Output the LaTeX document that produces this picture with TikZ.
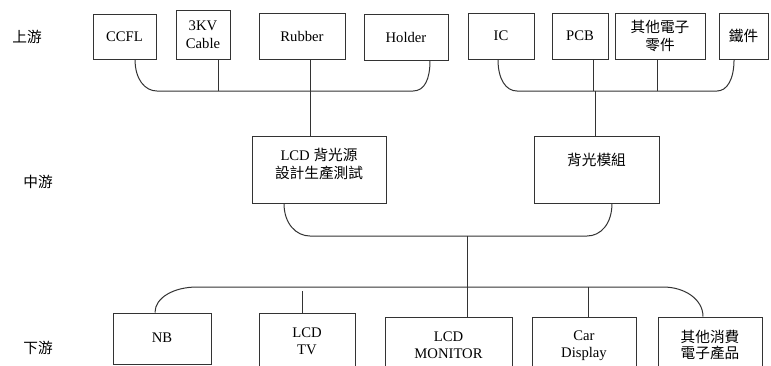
\documentclass[tikz,border=0pt]{standalone}
\usepackage{fontspec}
\setmainfont{Liberation Serif}
\newfontfamily\cjk{Noto Sans CJK TC}
\usetikzlibrary{positioning}
\begin{document}
\begin{tikzpicture}[x=0.75pt, y=-0.75pt,
    box/.style={draw=black!80, line width=0.75pt, inner sep=0pt, align=center, minimum height=34.5pt, font=\fontsize{11}{13.5}\selectfont},
    txt/.style={inner sep=0pt, align=center, font=\fontsize{11}{12.5}\selectfont},
    conn/.style={draw=black!80, line width=0.75pt}]
    \clip (0,0) rectangle (771,365);
    \fill[white] (0,0) rectangle (771,365);
    % stages
    \node[txt] (up) at (27,37) {\cjk 上游};
    \node[txt] (mid) at (38,182) {\cjk 中游};
    \node[txt] (down) at (38,348) {\cjk 下游};
    % upstream
    \node[box, minimum width=47.25pt, minimum height=33.75pt] (ccfl) at (124.5,36.5) {CCFL};
    \node[box, minimum width=40.5pt, minimum height=36.75pt] (cable) at (203,34.5) {3KV\\Cable};
    \node[box, minimum width=64.5pt] (rubber) at (302,36) {Rubber};
    \node[box, minimum width=63pt] (holder) at (406,37) {Holder};
    \node[box, minimum width=49.5pt] (ic) at (501,36) {IC};
    \node[box, minimum width=42pt] (pcb) at (580,36) {PCB};
    \node[box, minimum width=67.5pt] (parts) at (660,36) {{\cjk 其他電子}\\{\cjk 零件}};
    \node[box, minimum width=36.75pt] (iron) at (743.5,36) {\cjk 鐵件};
    % midstream
    \node[box, minimum width=100.5pt, minimum height=50.25pt] (lcd) at (319,169.5) {};
    \node[txt, font=\fontsize{11}{13.5}\selectfont] (lcdt) at (319,164) {LCD {\cjk 背光源}\\{\cjk 設計生產測試}};
    \node[box, minimum width=93.75pt, minimum height=50.25pt] (module) at (596.5,169.5) {};
    \node[txt] (modulet) at (596.5,160) {\cjk 背光模組};
    % downstream
    \node[box, minimum width=73.5pt, minimum height=38.25pt] (nb) at (162,338.5) {};
    \node[txt] (nbt) at (162,338) {NB};
    \node[box, minimum width=72pt, minimum height=46.5pt] (tv) at (307,344) {};
    \node[txt] (tvt) at (307,341) {LCD\\TV};
    \node[box, minimum width=95.25pt, minimum height=45pt] (monitor) at (448.5,347) {};
    \node[txt] (monitort) at (448.5,345.5) {LCD\\MONITOR};
    \node[box, minimum width=78pt, minimum height=45pt] (car) at (584,347) {};
    \node[txt] (cart) at (584,345.5) {Car\\Display};
    \node[box, minimum width=78pt, minimum height=45pt] (other) at (710,347) {};
    \node[txt] (othert) at (710,345) {{\cjk 其他消費}\\{\cjk 電子產品}};
    % buses
    \coordinate (bl1) at (157,91);
    \coordinate (bl2) at (413,91);
    \coordinate (br1) at (517,91);
    \coordinate (br2) at (717,91);
    \coordinate (bm1) at (310,236);
    \coordinate (bm2) at (587,236);
    \coordinate (bb1) at (197,287);
    \coordinate (bb2) at (663,287);
    \coordinate (jcab) at (218,91);
    \coordinate (jrub) at (310,91);
    \coordinate (jpcb) at (593,91);
    \coordinate (jpar) at (657,91);
    \coordinate (jmod) at (595,91);
    \coordinate (jmid) at (467,236);
    \coordinate (jtv) at (302,291);
    \coordinate (jcar) at (588,287);
    \draw[conn] ([xshift=7.9pt]ccfl.south) .. controls +(0,20) and +(-12,0) .. (bl1) -- (bl2)
        .. controls +(12,0) and +(0,18) .. ([xshift=18pt]holder.south);
    \draw[conn] (jcab |- cable.south) -- (jcab);
    \draw[conn] (jrub |- rubber.south) -- (jrub |- lcd.north);
    \draw[conn] ([xshift=-2.25pt]ic.south) .. controls +(0,20) and +(-11,0) .. (br1) -- (br2)
        .. controls +(10,0) and +(0,20) .. ([xshift=-7.1pt]iron.south);
    \draw[conn] (jpcb |- pcb.south) -- (jpcb);
    \draw[conn] (jpar |- parts.south) -- (jpar);
    \draw[conn] (jmod) -- (jmod |- module.north);
    \draw[conn] ([xshift=-26.25pt]lcd.south) .. controls +(0,20) and +(-14,0) .. (bm1) -- (bm2)
        .. controls +(14,0) and +(0,20) .. ([xshift=11.6pt]module.south);
    \draw[conn] (jmid) -- (jmid |- monitor.north);
    \draw[conn] ([xshift=-5.25pt]nb.north) .. controls +(0,-15) and +(-23,0) .. (bb1) -- (bb2)
        .. controls +(22,0) and +(0,-17) .. ([xshift=-5.25pt]other.north);
    \draw[conn] (jtv) -- (jtv |- tv.north);
    \draw[conn] (jcar) -- (jcar |- car.north);
\end{tikzpicture}
\end{document}
